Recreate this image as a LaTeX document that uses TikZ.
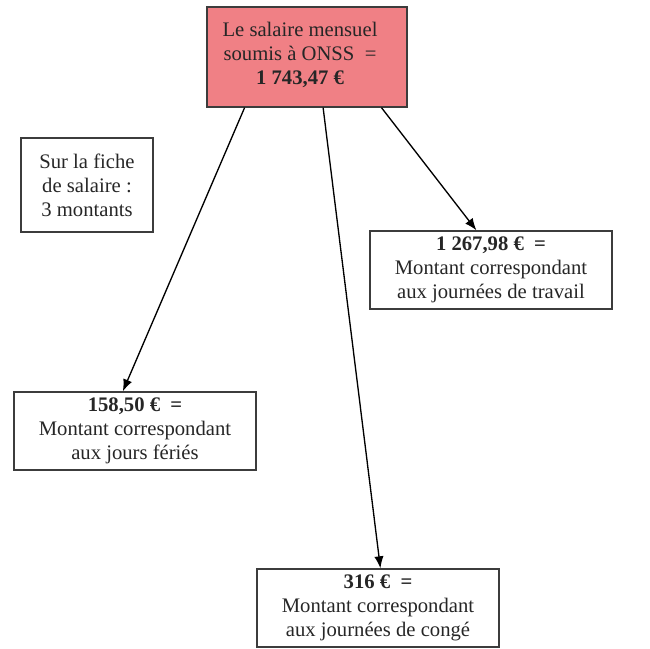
\documentclass[tikz,border=0pt]{standalone}
\usepackage{fontspec}
\setmainfont{Liberation Serif}
\usetikzlibrary{arrows.meta,calc}

\definecolor{onsspink}{RGB}{240,128,133}
\definecolor{boxgray}{RGB}{60,60,60}

\tikzset{every picture/.style={line width=0.75pt}}
\tikzset{
  montant/.style={draw=boxgray, line width=1pt, align=center, inner sep=0.75pt, text=black!85,
    minimum width=181.5pt, minimum height=58.5pt, font=\fontsize{15.5}{18}\selectfont},
  fleche/.style={-{Latex[length=9pt,width=7pt]}, line width=1pt}
}

\begin{document}
\begin{tikzpicture}[x=0.75pt,y=0.75pt,yscale=-1,xscale=1]
\useasboundingbox (0,0) rectangle (650,649);

% Salaire ONSS
\node [montant, fill=onsspink, minimum width=150pt, minimum height=75pt] (onss) at (307,57) {};
\node [align=center, inner sep=0.75pt, text=black!85, font=\fontsize{15.5}{18}\selectfont] (onsstexte) at ($(onss.center)+(-7,-2)$)
  {Le salaire mensuel\\ soumis à ONSS~ =\\ \textbf{1 743,47 €}};
% Fiche de salaire
\node [montant, minimum width=99pt, minimum height=70.5pt] (fiche) at (87,185)
  {Sur la fiche\\ de salaire :\\ 3 montants};
% Journees de travail
\node [montant] (travail) at (491,270) {\textbf{1 267,98 €~ =}\\ Montant correspondant\\ aux journées de travail};
% Jours feries
\node [montant] (feries) at (135,431) {\textbf{158,50 €~ =}\\ Montant correspondant\\ aux jours fériés};
% Journees de conge
\node [montant] (conge) at (378,608) {\textbf{316 €~ =}\\ Montant correspondant\\ aux journées de congé};

% Fleches
\draw [fleche] ($(onss.south west)!.19!(onss.south east)$) -- ($(feries.north west)!.45!(feries.north east)$);
\draw [fleche] ($(onss.south west)!.58!(onss.south east)$) -- ($(conge.north west)!.51!(conge.north east)$);
\draw [fleche] ($(onss.south west)!.87!(onss.south east)$) -- ($(travail.north west)!.44!(travail.north east)$);

\end{tikzpicture}
\end{document}
